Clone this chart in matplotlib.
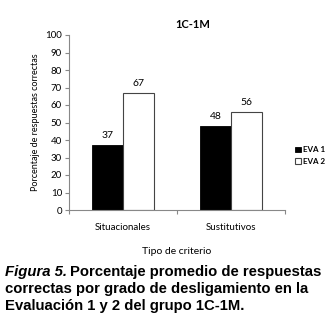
import matplotlib
matplotlib.use("Agg")
import matplotlib.pyplot as plt
import numpy as np

categories = ["Situacionales", "Sustitutivos"]
eva1 = [37, 48]
eva2 = [67, 56]
series_labels = ["EVA 1", "EVA 2"]
yticks = list(range(0, 101, 10))

W, H = 331, 320
fig = plt.figure(figsize=(W/100, H/100), dpi=100)
fig.patch.set_facecolor("white")

def ax_rect(x0, y0, x1, y1):
    return [x0/W, 1-y1/H, (x1-x0)/W, (y1-y0)/H]

ax = fig.add_axes(ax_rect(69, 35, 285, 210))
x = np.arange(len(categories))
w = 0.287
b1 = ax.bar(x - w/2, eva1, w, color="black", edgecolor="black", linewidth=0.6, label=series_labels[0])
b2 = ax.bar(x + w/2, eva2, w, color="white", edgecolor="#444444", linewidth=0.8, label=series_labels[1])
ax.set_xlim(-0.5, 1.5)
ax.set_ylim(0, 100)
ax.set_yticks(yticks)
ax.set_yticklabels([str(t) for t in yticks], fontsize=7, family="Lato")
ax.set_xticks([-0.5, 0.5, 1.5])
ax.set_xticklabels([])
ax.set_xticks(x, minor=True)
ax.set_xticklabels(categories, minor=True, fontsize=7, family="Lato")
ax.tick_params(axis="x", which="minor", length=0, pad=9)
ax.tick_params(axis="x", which="major", length=3, color="#888888")
ax.tick_params(axis="y", length=3, color="#888888", pad=2)
for s in ["top", "right"]:
    ax.spines[s].set_visible(False)
for s in ["left", "bottom"]:
    ax.spines[s].set_color("#888888")
    ax.spines[s].set_linewidth(0.8)

for bars, vals in [(b1, eva1), (b2, eva2)]:
    for r, v in zip(bars, vals):
        ax.text(r.get_x() + r.get_width()/2, v + 3, str(v), ha="center", va="bottom",
                fontsize=7.5, family="Lato")

ax.set_ylabel("Porcentaje de respuestas correctas", fontsize=6.5, family="Lato", labelpad=4)
ax.set_xlabel("Tipo de criterio", fontsize=7.5, family="Lato", labelpad=11)

leg = ax.legend(loc="center left", bbox_to_anchor=(1.045, 0.31), frameon=False,
                prop={"family": "Lato", "size": 5.8, "weight": "bold"}, handlelength=0.75, handleheight=0.75,
                handletextpad=0.25, labelspacing=0.6, borderaxespad=0, borderpad=0)

fig.text(193/W, 1-24/H, "1C-1M", ha="center", va="center", fontsize=8, fontweight="bold", family="Lato")

cap_font = "Liberation Sans"
fs = 10.7
renderer = fig.canvas.get_renderer()
t0 = fig.text(5/W, 1-272/H, "Figura 5.", ha="left", va="center", fontsize=fs, fontweight="bold",
              style="italic", family=cap_font)
bb = t0.get_window_extent(renderer=renderer)
fig.text((bb.x1 + 3.5)/W, 1-272/H, "Porcentaje promedio de respuestas", ha="left", va="center",
         fontsize=fs, fontweight="bold", family=cap_font)
fig.text(5/W, 1-289/H, "correctas por grado de desligamiento en la", ha="left", va="center",
         fontsize=fs, fontweight="bold", family=cap_font)
fig.text(5/W, 1-306/H, "Evaluación 1 y 2 del grupo 1C-1M.", ha="left", va="center",
         fontsize=fs, fontweight="bold", family=cap_font)

fig.savefig("out.png", dpi=100)
